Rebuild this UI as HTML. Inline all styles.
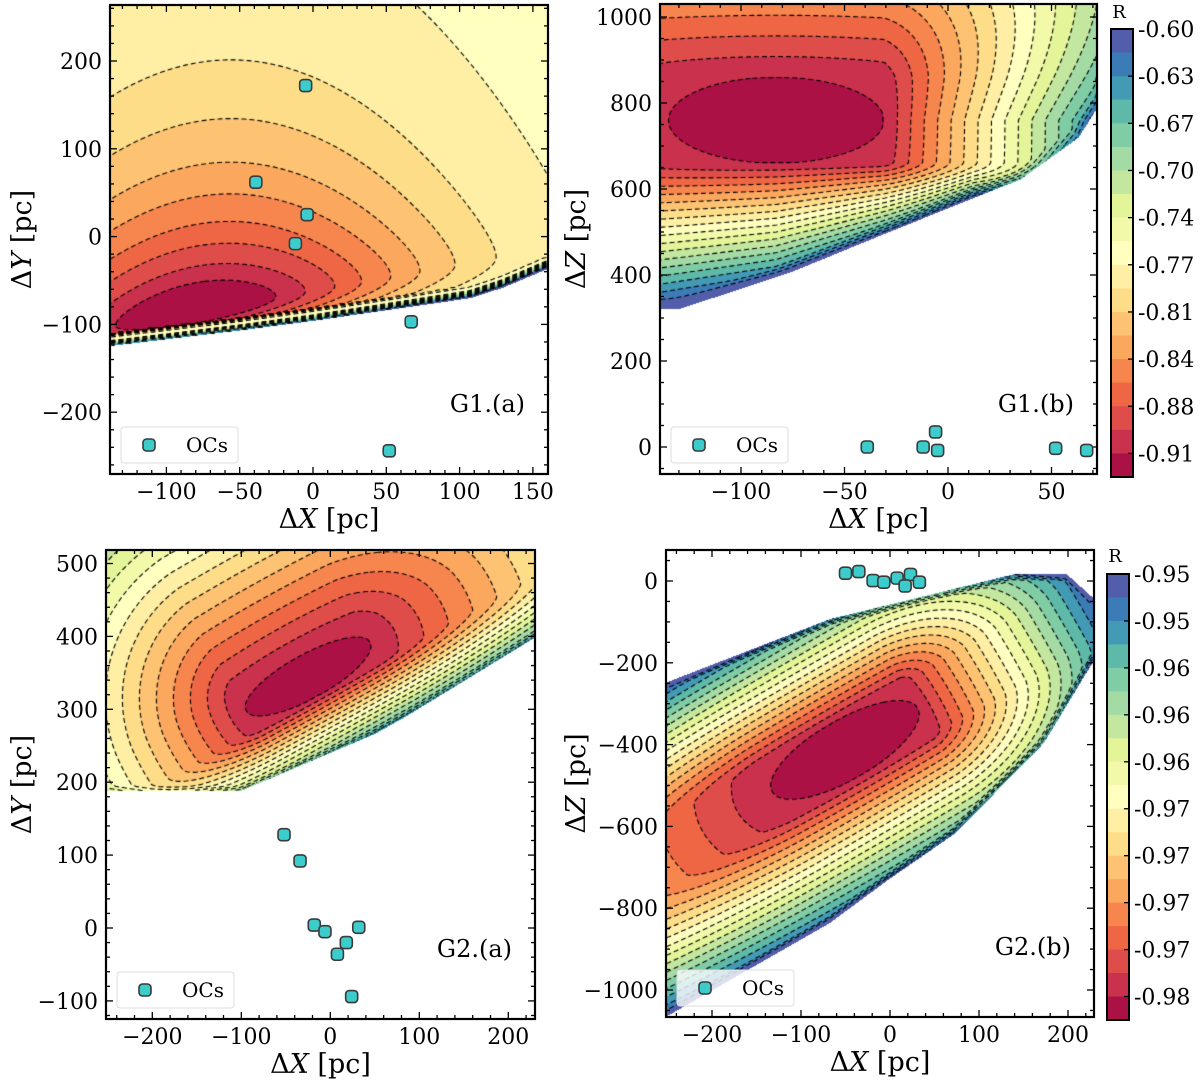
<!DOCTYPE html>
<html><head><meta charset="utf-8">
<style>
html,body{margin:0;padding:0;background:#fff;}
#wrap{position:relative;width:1200px;height:1083px;overflow:hidden;font-family:"DejaVu Serif","Liberation Serif",serif;}
canvas{position:absolute;}
svg{position:absolute;left:0;top:0;}
</style></head>
<body>
<div id="wrap">
<canvas id="c0"></canvas>
<canvas id="c1"></canvas>
<canvas id="c2"></canvas>
<canvas id="c3"></canvas>
<svg id="ov" width="1200" height="1083"></svg>
</div>
<script>
// ---- data ----
const ocsG1aX = [-5, -39, -4, -12, 67, 52];
const ocsG1aY = [172, 62, 25, -8, -97, -244];
const ocsG1bX = [-39, -12, -6, -5, 52, 67];
const ocsG1bZ = [0, 0, 35, -8, -3, -8];
const ocsG2aX = [-52, -34, -18, -6, 32, 18, 8, 24];
const ocsG2aY = [128, 92, 4, -5, 1, -20, -36, -94];
const ocsG2bX = [-50, -35, -19, -7, 8, 23, 17, 33];
const ocsG2bZ = [19, 23, 1, -3, 7, 16, -12, -3];
const levelsG1a = [0.30,0.56,0.90,1.28,1.77,2.34,3.13,4.2,6.8,14,15.5,17,18.5,20,21.5,23,24.5,26];
const levelsG1b = [1,2,3,4,5,6,7,8,9,10,11,12,13,14,15,16,17,18];
const levelsG2a = [1,2,3,4,5,6,7,8,9,10,11,12,13,14,15,16,17,18];
const levelsG2b = [1,2,3,4,5,6,7,8,9,10,11,12,13,14,15,16,17,18];
const cbarLabelsG1 = ["-0.60","-0.63","-0.67","-0.70","-0.74","-0.77","-0.81","-0.84","-0.88","-0.91"];
const cbarLabelsG2 = ["-0.95","-0.95","-0.96","-0.96","-0.96","-0.97","-0.97","-0.97","-0.97","-0.98"];
const ticksG1aX = [-100,-50,0,50,100,150], ticksG1aY = [-200,-100,0,100,200];
const ticksG1bX = [-100,-50,0,50], ticksG1bY = [0,200,400,600,800,1000];
const ticksG2aX = [-200,-100,0,100,200], ticksG2aY = [-100,0,100,200,300,400,500];
const ticksG2bX = [-200,-100,0,100,200], ticksG2bY = [-1000,-800,-600,-400,-200,0];
const bndG1a = [[-140,-125],[-100,-117],[-50,-107],[0,-96],[50,-84],[108,-70],[130,-58],[160,-37]];
const bndG1b = [[-140,320],[-129,322],[-76,406],[-39,479],[-2,551],[35,622],[63,719],[75,810],[80,1100]];
const bndG2a = [[-252,188],[-100,188],[50,266],[85,290],[231,399]];
const bndG2bUp = [[-252,-249],[-218,-220],[-67.4,-93],[138,16],[199,16],[229,-43]];
const bndG2bLo = [[-252,-1066],[-67.4,-836],[-3.4,-733],[74,-616],[173,-396],[229,-195]];

// ---- helpers ----
const SPEC=['#9e0142','#d53e4f','#f46d43','#fdae61','#fee08b','#ffffbf','#e6f598','#abdda4','#66c2a5','#3288bd','#5e4fa2'];
function hx(h){return [parseInt(h.substr(1,2),16),parseInt(h.substr(3,2),16),parseInt(h.substr(5,2),16)];}
function bandColor(b){let t=(b+0.5)/19*10;let i=Math.min(9,Math.floor(t));let f=t-i;let a=hx(SPEC[i]),c=hx(SPEC[i+1]);return [0,1,2].map(k=>Math.round(a[k]+(c[k]-a[k])*f));}
function interpY(pts,x){if(x<=pts[0][0])return pts[0][1];for(let i=1;i<pts.length;i++){if(x<=pts[i][0]){let t=(x-pts[i-1][0])/(pts[i][0]-pts[i-1][0]);return pts[i-1][1]+t*(pts[i][1]-pts[i-1][1]);}}return pts[pts.length-1][1];}
function distPoly(px,py,P){let best=1e9;for(let i=1;i<P.length;i++){let ax=P[i-1][0],ay=P[i-1][1],bx=P[i][0],by=P[i][1];let dx=bx-ax,dy=by-ay;let t=((px-ax)*dx+(py-ay)*dy)/(dx*dx+dy*dy);t=Math.max(0,Math.min(1,t));let ex=ax+t*dx-px,ey=ay+t*dy-py;let d=Math.sqrt(ex*ex+ey*ey);if(d<best)best=d;}return best;}
function pw(d,r0,step){return d<r0?d/r0:1+(d-r0)/step;}

const panels=[
 {id:'g1a',x0:110,x1:548,y0:5,y1:474,ax:313,bx:1.466,ay:236.6,by:-0.878,levels:levelsG1a,
  ticksX:ticksG1aX,ticksY:ticksG1aY,minX:10,minY:20,ptsX:ocsG1aX,ptsY:ocsG1aY,label:'G1.(a)',yl:'Y',
  valid(x,y){return y>interpY(bndG1a,x);},
  field(x,y,X,Y,p){let dx=x+80;let dyr=(y+85)-0.3*dx;let g=dyr>0?dyr*dyr/(1500+62*dyr):(dyr/25)**2;let d=distPoly(X,Y,p.bpx[0]);return (dx/100)**2+g+24*Math.max(0,1-d/12);}},
 {id:'g1b',x0:660,x1:1097,y0:4,y1:474,ax:948,bx:2.07,ay:447,by:-0.43,levels:levelsG1b,
  ticksX:ticksG1bX,ticksY:ticksG1bY,minX:10,minY:50,ptsX:ocsG1bX,ptsY:ocsG1bZ,label:'G1.(b)',yl:'Z',
  valid(x,y){return y>interpY(bndG1b,x);},
  field(x,y,X,Y,p){let dx=x+83,dy=y-760;let rx=dx>=0?pw(dx,52,6.5+0.01*Math.max(0,dy)):pw(-dx,52,40);let sd=dx>0?Math.max(5.5,16-0.11*dx):16+0.05*(-dx);let ry=dy>=0?pw(dy,100,48):pw(-dy,100,sd);let d=distPoly(X,Y,p.bpx[0]);return Math.sqrt(rx*rx+ry*ry)+2*Math.max(0,1-d/10);}},
 {id:'g2a',x0:106,x1:535,y0:550,y1:1019,ax:330.3,bx:0.89,ay:928,by:-0.729,levels:levelsG2a,
  ticksX:ticksG2aX,ticksY:ticksG2aY,minX:20,minY:20,ptsX:ocsG2aX,ptsY:ocsG2aY,label:'G2.(a)',yl:'Y',
  valid(x,y){return y>interpY(bndG2a,x);},
  field(x,y,X,Y,p){let cx=p.ax+p.bx*(-25),cy=p.ay+p.by*345;let dX=X-cx,dY=Y-cy;let c=Math.cos(29*Math.PI/180),s=Math.sin(29*Math.PI/180);let u=dX*c-dY*s,v=-dX*s-dY*c;let fu=u>0?pw(u,71,27):pw(-u,71,17);let fv=v>0?pw(v,22,17):pw(-v,22,4.2);let d=distPoly(X,Y,p.bpx[0]);return Math.sqrt(fu*fu+fv*fv)+1.5*Math.max(0,1-d/5);}},
 {id:'g2b',x0:666,x1:1094,y0:550,y1:1017,ax:890,bx:0.89,ay:581,by:-0.409,levels:levelsG2b,
  ticksX:ticksG2bX,ticksY:ticksG2bY,minX:20,minY:50,ptsX:ocsG2bX,ptsY:ocsG2bZ,label:'G2.(b)',yl:'Z',
  valid(x,y){return y<interpY(bndG2bUp,x)&&y>interpY(bndG2bLo,x);},
  field(x,y,X,Y,p){let cx=p.ax+p.bx*(-50.6),cy=p.ay+p.by*(-413);let dX=X-cx,dY=Y-cy;let c=Math.cos(30*Math.PI/180),s=Math.sin(30*Math.PI/180);let u=dX*c-dY*s,v=-dX*s-dY*c;let fu=u>0?pw(u,84,12):pw(-u,84,40);let fv=pw(Math.abs(v),30,6.8);let d=Math.min(distPoly(X,Y,p.bpx[0]),distPoly(X,Y,p.bpx[1]));return Math.sqrt(fu*fu+fv*fv)+3*Math.max(0,1-d/6);}}
];
panels[0].bnd=[bndG1a];panels[1].bnd=[bndG1b];panels[2].bnd=[bndG2a];panels[3].bnd=[bndG2bUp,bndG2bLo];

function drawContours(ctx,F,W,H,levels){
  const s=2,nx=Math.floor((W-1)/s)+1,ny=Math.floor((H-1)/s)+1;
  const val=(a,b)=>F[(b*s)*W+a*s];
  ctx.strokeStyle='#000';ctx.lineWidth=1.1;ctx.setLineDash([5,3]);
  for(const L of levels){
    const segs=[];const map=new Map();
    const add=(k1,p1,k2,p2)=>{const i=segs.length;segs.push({k:[k1,k2],p:[p1,p2],u:false});[k1,k2].forEach(k=>{if(!map.has(k))map.set(k,[]);map.get(k).push(i);});};
    for(let b=0;b<ny-1;b++)for(let a=0;a<nx-1;a++){
      const v0=val(a,b),v1=val(a+1,b),v2=val(a+1,b+1),v3=val(a,b+1);
      if(isNaN(v0)||isNaN(v1)||isNaN(v2)||isNaN(v3))continue;
      const s0=v0>=L,s1=v1>=L,s2=v2>=L,s3=v3>=L;
      const E=[];
      if(s0!==s1)E.push([((b*nx+a)*2),[a*s+s*(L-v0)/(v1-v0)+0.5,b*s+0.5]]);
      if(s1!==s2)E.push([((b*nx+a+1)*2+1),[(a+1)*s+0.5,b*s+s*(L-v1)/(v2-v1)+0.5]]);
      if(s3!==s2)E.push([(((b+1)*nx+a)*2),[a*s+s*(L-v3)/(v2-v3)+0.5,(b+1)*s+0.5]]);
      if(s0!==s3)E.push([((b*nx+a)*2+1),[a*s+0.5,b*s+s*(L-v0)/(v3-v0)+0.5]]);
      if(E.length===2)add(E[0][0],E[0][1],E[1][0],E[1][1]);
      else if(E.length===4){add(E[0][0],E[0][1],E[1][0],E[1][1]);add(E[2][0],E[2][1],E[3][0],E[3][1]);}
    }
    for(let i=0;i<segs.length;i++){
      if(segs[i].u)continue;segs[i].u=true;
      let pts=[segs[i].p[0],segs[i].p[1]];
      for(let dir=0;dir<2;dir++){
        let k=dir===0?segs[i].k[1]:segs[i].k[0];
        while(true){const lst=map.get(k)||[];let nxt=-1;for(const j of lst){if(!segs[j].u){nxt=j;break;}}if(nxt<0)break;
          const sg=segs[nxt];sg.u=true;const o=sg.k[0]===k?1:0;
          if(dir===0)pts.push(sg.p[o]);else pts.unshift(sg.p[o]);k=sg.k[o];}
      }
      ctx.beginPath();ctx.moveTo(pts[0][0],pts[0][1]);for(let q=1;q<pts.length;q++)ctx.lineTo(pts[q][0],pts[q][1]);ctx.stroke();
    }
  }
}

panels.forEach((p,pi)=>{
  p.sx=v=>p.ax+p.bx*v; p.sy=v=>p.ay+p.by*v;
  p.bpx=p.bnd.map(B=>B.map(q=>[p.sx(q[0]),p.sy(q[1])]));
  const W=p.x1-p.x0,H=p.y1-p.y0;
  const cv=document.getElementById('c'+pi);
  cv.width=W;cv.height=H;cv.style.left=p.x0+'px';cv.style.top=p.y0+'px';
  const ctx=cv.getContext('2d');const img=ctx.createImageData(W,H);
  const F=new Float32Array(W*H);
  const cols=[];for(let b=0;b<19;b++)cols.push(bandColor(b));
  for(let j=0;j<H;j++)for(let i=0;i<W;i++){
    const X=p.x0+i+0.5,Y=p.y0+j+0.5;const x=(X-p.ax)/p.bx,y=(Y-p.ay)/p.by;
    const k=j*W+i;let c=[255,255,255];
    if(p.valid(x,y)){const f=p.field(x,y,X,Y,p);F[k]=f;let b=0;for(const L of p.levels){if(f>=L)b++;}if(b>18)b=18;c=cols[b];}
    else F[k]=NaN;
    img.data[k*4]=c[0];img.data[k*4+1]=c[1];img.data[k*4+2]=c[2];img.data[k*4+3]=255;
  }
  ctx.putImageData(img,0,0);
  drawContours(ctx,F,W,H,p.levels);
});

// ---- SVG overlay ----
const NS='http://www.w3.org/2000/svg';const ov=document.getElementById('ov');
function el(t,a,parent){const e=document.createElementNS(NS,t);for(const k in a)e.setAttribute(k,a[k]);(parent||ov).appendChild(e);return e;}
function fmt(v){return v<0?'\u2212'+Math.abs(v):''+v;}
panels.forEach(p=>{
  const g=el('g',{});
  
  
  const tk=(x1,y1,x2,y2)=>el('line',{x1,y1,x2,y2,stroke:'#000','stroke-width':1.3},g);
  const xmin=(p.x0-p.ax)/p.bx,xmax=(p.x1-p.ax)/p.bx,ymin=(p.y1-p.ay)/p.by,ymax=(p.y0-p.ay)/p.by;
  for(let v=Math.ceil(xmin/p.minX)*p.minX;v<=xmax;v+=p.minX){const X=p.sx(v);const maj=p.ticksX.includes(v);const L=maj?7:4;tk(X,p.y1,X,p.y1-L);tk(X,p.y0,X,p.y0+L);}
  for(let v=Math.ceil(ymin/p.minY)*p.minY;v<=ymax;v+=p.minY){const Y=p.sy(v);const maj=p.ticksY.includes(v);const L=maj?7:4;tk(p.x0,Y,p.x0+L,Y);tk(p.x1,Y,p.x1-L,Y);}
  p.ticksX.forEach(v=>{const t=el('text',{x:p.sx(v),y:p.y1+25,'text-anchor':'middle','font-size':22,fill:'#000'},g);t.textContent=fmt(v);});
  p.ticksY.forEach(v=>{const t=el('text',{x:p.x0-8,y:p.sy(v)+8,'text-anchor':'end','font-size':22,fill:'#000'},g);t.textContent=fmt(v);});
  p.ptsX.forEach((v,i)=>{const r=el('rect',{x:p.sx(v)-6,y:p.sy(p.ptsY[i])-6,width:12,height:12,rx:3.5,fill:'#3ccccc',stroke:'#3a3a3a','stroke-width':1.6},g);});
  el('rect',{x:p.x0,y:p.y0,width:p.x1-p.x0,height:p.y1-p.y0,fill:'none',stroke:'#000','stroke-width':2.2},g);
  const lg=el('g',{},g);
  const lx=p.x0+11,ly=p.y1-47;
  el('rect',{x:lx,y:ly,width:117,height:36,rx:3,fill:'rgba(255,255,255,0.8)',stroke:'#ddd','stroke-width':1},lg);
  el('rect',{x:lx+22,y:ly+12,width:12,height:12,rx:3.5,fill:'#3ccccc',stroke:'#3a3a3a','stroke-width':1.6},lg);
  const lt=el('text',{x:lx+65,y:ly+25,'font-size':20,fill:'#000'},lg);lt.textContent='OCs';
  const pl=el('text',{x:p.x1-23,y:p.y1-62,'text-anchor':'end','font-size':24,fill:'#000'},g);pl.textContent=p.label;
  
  const xl=el('text',{x:(p.x0+p.x1)/2,y:p.y1+54,'text-anchor':'middle','font-size':27,fill:'#000'},g);
  xl.innerHTML='\u0394<tspan font-style="italic">X</tspan> [pc]';
  
  const yx=p.x0<300?22:576, yy=(p.y0+p.y1)/2;
  const yl=el('text',{x:yx,y:yy,'text-anchor':'middle','font-size':27,fill:'#000',transform:`rotate(-90 ${yx} ${yy})`,dy:9},g);
  yl.innerHTML='\u0394<tspan font-style="italic">'+p.yl+'</tspan> [pc]';
  
});
[[29,477,cbarLabelsG1,1111,12],[574,1020,cbarLabelsG2,1107,556]].forEach(([t,b,labs,x,ry],ci)=>{
  const g=el('g',{});
  
  
  const h=(b-t)/19;
  for(let k=0;k<19;k++){const c=bandColor(18-k);el('rect',{x:x,y:t+k*h,width:22,height:h+0.5,fill:`rgb(${c[0]},${c[1]},${c[2]})`},g);}
  el('rect',{x:x,y:t,width:22,height:b-t,fill:'none',stroke:'#000','stroke-width':2},g);
  labs.forEach((s,i)=>{const Y=t+i*2*h;el('line',{x1:x+22,y1:Y,x2:x+17,y2:Y,stroke:'#000','stroke-width':1.3},g);const tx=el('text',{x:x+27,y:Y+8,'font-size':22,fill:'#000'},g);tx.textContent=s;});
  const R=el('text',{x:x+8,y:ry+6,'text-anchor':'middle','font-size':18,fill:'#000'},g);R.textContent='R';
});
</script>
</body></html>
